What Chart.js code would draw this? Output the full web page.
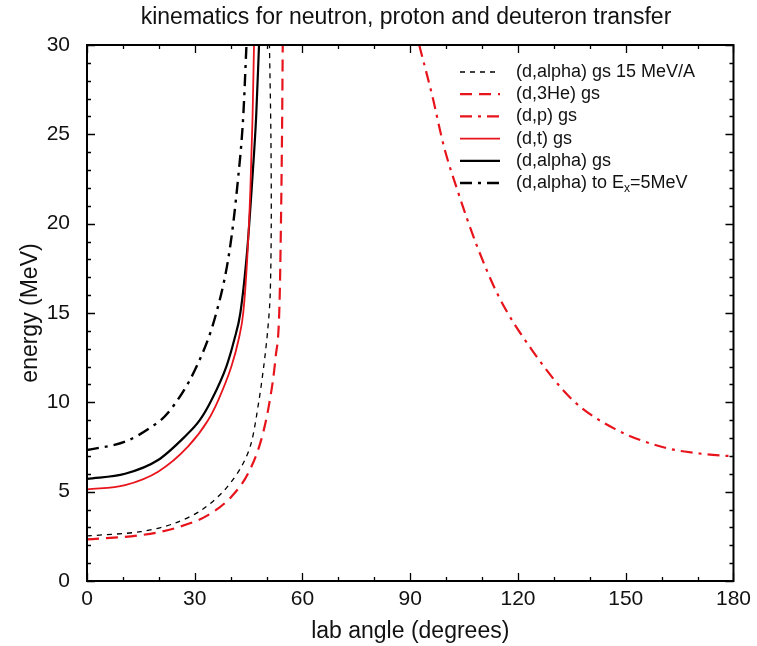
<!DOCTYPE html>
<html lang="en">
<head>
    <meta charset="UTF-8">
    <title>kinematics for neutron, proton and deuteron transfer</title>
    <script src="https://cdn.jsdelivr.net/npm/chart.js"></script>
    <style>
        body { margin: 0; background: #fff; }
        canvas { display: block; }
    </style>
</head>
<body>
    <canvas id="grafico" width="757" height="646"></canvas>
    <script>
        // values (angle in degrees, energy in MeV)
        const dAlpha15Angle  = [0, 15, 24.4, 31.9, 38.3, 43, 45.7, 47.8, 49.2, 50.3, 51, 51.3, 51.2, 50.8];
        const dAlpha15Energy = [2.52, 2.76, 3.23, 3.97, 5.09, 6.4, 7.7, 10.0, 12.0, 14.0, 16.0, 20.0, 25.0, 30.0];

        const d3HeAngle  = [0, 15.2, 24.4, 33.7, 40.2, 44.8, 48.5, 50.8, 52.5, 53.6, 54.0, 54.3, 54.5];
        const d3HeEnergy = [2.33, 2.57, 2.95, 3.69, 4.72, 6.0, 7.9, 10.0, 12.5, 15.5, 20.0, 25.0, 30.0];

        const dpAngle  = [92.5, 96.2, 99.4, 103.1, 108.3, 114.7, 124, 135.1, 147.1, 161, 172, 180];
        const dpEnergy = [30, 27.1, 24.3, 21.9, 18.9, 15.9, 12.9, 10.15, 8.5, 7.46, 7.1, 6.98];

        const dtAngle  = [0, 10.6, 19.8, 28.1, 33.7, 36.5, 40.2, 42.2, 43.5, 44.6, 45.5, 46.1, 46.5];
        const dtEnergy = [5.13, 5.37, 6.12, 7.52, 9.0, 10.1, 12.0, 13.5, 15.0, 18.0, 22.0, 26.0, 30.0];

        const dAlphaAngle  = [0, 10.6, 19.8, 27.2, 31.4, 34.6, 38.8, 41.0, 42.7, 44.6, 46.0, 47.1, 47.9];
        const dAlphaEnergy = [5.71, 6.0, 6.77, 8.07, 9.0, 10.1, 12.0, 13.5, 15.0, 18.5, 22.4, 26.0, 30.0];

        const dAlphaEx5Angle  = [0, 10.6, 18, 22.5, 30.5, 36, 39.7, 42, 43.5, 44.4];
        const dAlphaEx5Energy = [7.33, 7.8, 8.63, 9.4, 12.0, 15.0, 18.5, 22.4, 26.0, 30.0];

        const etiquetas = [
            '(d,alpha) gs 15 MeV/A',
            '(d,3He) gs',
            '(d,p) gs',
            '(d,t) gs',
            '(d,alpha) gs',
            '(d,alpha) to E_x=5MeV'
        ];
        const titulo = 'kinematics for neutron, proton and deuteron transfer';

        const FONT = '"Liberation Sans", Arial, Helvetica, sans-serif';
        const ROJO = '#e8141c';
        const NEGRO = '#000000';

        function puntos(xs, ys) {
            return xs.map((x, i) => ({ x: x, y: ys[i] }));
        }

        const estilos = [
            { color: NEGRO, ancho: 1.3, dash: [5, 5], suave: 'default' },
            { color: ROJO, ancho: 2.2, dash: [12, 7], suave: 'monotone' },
            { color: ROJO, ancho: 2.2, dash: [12, 6, 3, 6], suave: 'monotone' },
            { color: ROJO, ancho: 1.8, dash: [], suave: 'monotone' },
            { color: NEGRO, ancho: 2.2, dash: [], suave: 'monotone' },
            { color: NEGRO, ancho: 2.4, dash: [12, 6, 3, 6], suave: 'monotone' }
        ];
        const series = [
            puntos(dAlpha15Angle, dAlpha15Energy),
            puntos(d3HeAngle, d3HeEnergy),
            puntos(dpAngle, dpEnergy),
            puntos(dtAngle, dtEnergy),
            puntos(dAlphaAngle, dAlphaEnergy),
            puntos(dAlphaEx5Angle, dAlphaEx5Energy)
        ];

        // title, frame, inward ticks (gnuplot style) and the legend inside the plot
        const marcoPlugin = {
            id: 'marco',
            afterDatasetsDraw(chart) {
                const { ctx, chartArea: a, scales } = chart;
                const sx = scales.x, sy = scales.y;
                ctx.save();
                ctx.fillStyle = '#111';
                ctx.font = '23px ' + FONT;
                ctx.textAlign = 'center';
                ctx.textBaseline = 'middle';
                ctx.fillText(titulo, 406, 18);

                ctx.strokeStyle = '#000';
                ctx.lineWidth = 1.3;
                ctx.setLineDash([]);
                ctx.beginPath();
                for (let v = 0; v <= 180; v += 10) {
                    const px = Math.round(sx.getPixelForValue(v)) + 0.5;
                    const len = v % 30 === 0 ? 8 : 4;
                    ctx.moveTo(px, a.bottom); ctx.lineTo(px, a.bottom - len);
                    ctx.moveTo(px, a.top); ctx.lineTo(px, a.top + len);
                }
                for (let v = 0; v <= 30; v += 1) {
                    const py = Math.round(sy.getPixelForValue(v)) + 0.5;
                    const len = v % 5 === 0 ? 8 : 4;
                    ctx.moveTo(a.left, py); ctx.lineTo(a.left + len, py);
                    ctx.moveTo(a.right, py); ctx.lineTo(a.right - len, py);
                }
                ctx.stroke();
                ctx.lineWidth = 2;
                ctx.strokeRect(a.left, a.top, a.right - a.left, a.bottom - a.top);

                // legend
                const x0 = 460, x1 = 500, xt = 516;
                let y = 72;
                ctx.textAlign = 'left';
                ctx.font = '18px ' + FONT;
                estilos.forEach((e, i) => {
                    ctx.strokeStyle = e.color;
                    ctx.lineWidth = e.ancho;
                    ctx.setLineDash(e.dash);
                    ctx.beginPath();
                    ctx.moveTo(x0, y); ctx.lineTo(x1, y);
                    ctx.stroke();
                    ctx.setLineDash([]);
                    const txt = etiquetas[i];
                    if (txt.indexOf('E_x') >= 0) {
                        const [antes, despues] = txt.split('E_x');
                        let cx = xt;
                        ctx.fillText(antes + 'E', cx, y);
                        cx += ctx.measureText(antes + 'E').width;
                        ctx.font = '12px ' + FONT;
                        ctx.fillText('x', cx, y + 6);
                        cx += ctx.measureText('x').width;
                        ctx.font = '18px ' + FONT;
                        ctx.fillText(despues, cx, y);
                    } else {
                        ctx.fillText(txt, xt, y);
                    }
                    y += 22.2;
                });
                ctx.restore();
            }
        };

        const ctx = document.getElementById('grafico').getContext('2d');
        new Chart(ctx, {
            type: 'line',
            data: {
                datasets: series.map((d, i) => ({
                    label: etiquetas[i],
                    data: d,
                    borderColor: estilos[i].color,
                    borderWidth: estilos[i].ancho,
                    borderDash: estilos[i].dash,
                    cubicInterpolationMode: estilos[i].suave,
                    pointRadius: 0,
                    fill: false,
                    tension: 0.3
                }))
            },
            options: {
                responsive: false,
                animation: false,
                layout: { padding: { left: 0, right: 22, top: 45, bottom: 0 } },
                plugins: {
                    legend: { display: false },
                    tooltip: { enabled: false },
                    title: { display: false }
                },
                scales: {
                    x: {
                        type: 'linear',
                        min: 0,
                        max: 180,
                        grid: { display: false, drawTicks: false },
                        border: { display: false },
                        ticks: { stepSize: 30, padding: 6, color: '#111', font: { family: FONT, size: 21 } },
                        title: {
                            display: true,
                            text: 'lab angle (degrees)',
                            color: '#111',
                            font: { family: FONT, size: 23 },
                            padding: { top: 0, bottom: 1 }
                        },
                        afterFit: (s) => { s.height = 65; }
                    },
                    y: {
                        min: 0,
                        max: 30,
                        grid: { display: false, drawTicks: false },
                        border: { display: false },
                        ticks: { stepSize: 5, padding: 17, color: '#111', font: { family: FONT, size: 21 } },
                        title: {
                            display: true,
                            text: 'energy (MeV)',
                            color: '#111',
                            font: { family: FONT, size: 23 },
                            padding: { top: 17, bottom: 0 }
                        },
                        afterFit: (s) => { s.width = 87; }
                    }
                }
            },
            plugins: [marcoPlugin]
        });
    </script>
</body>
</html>
